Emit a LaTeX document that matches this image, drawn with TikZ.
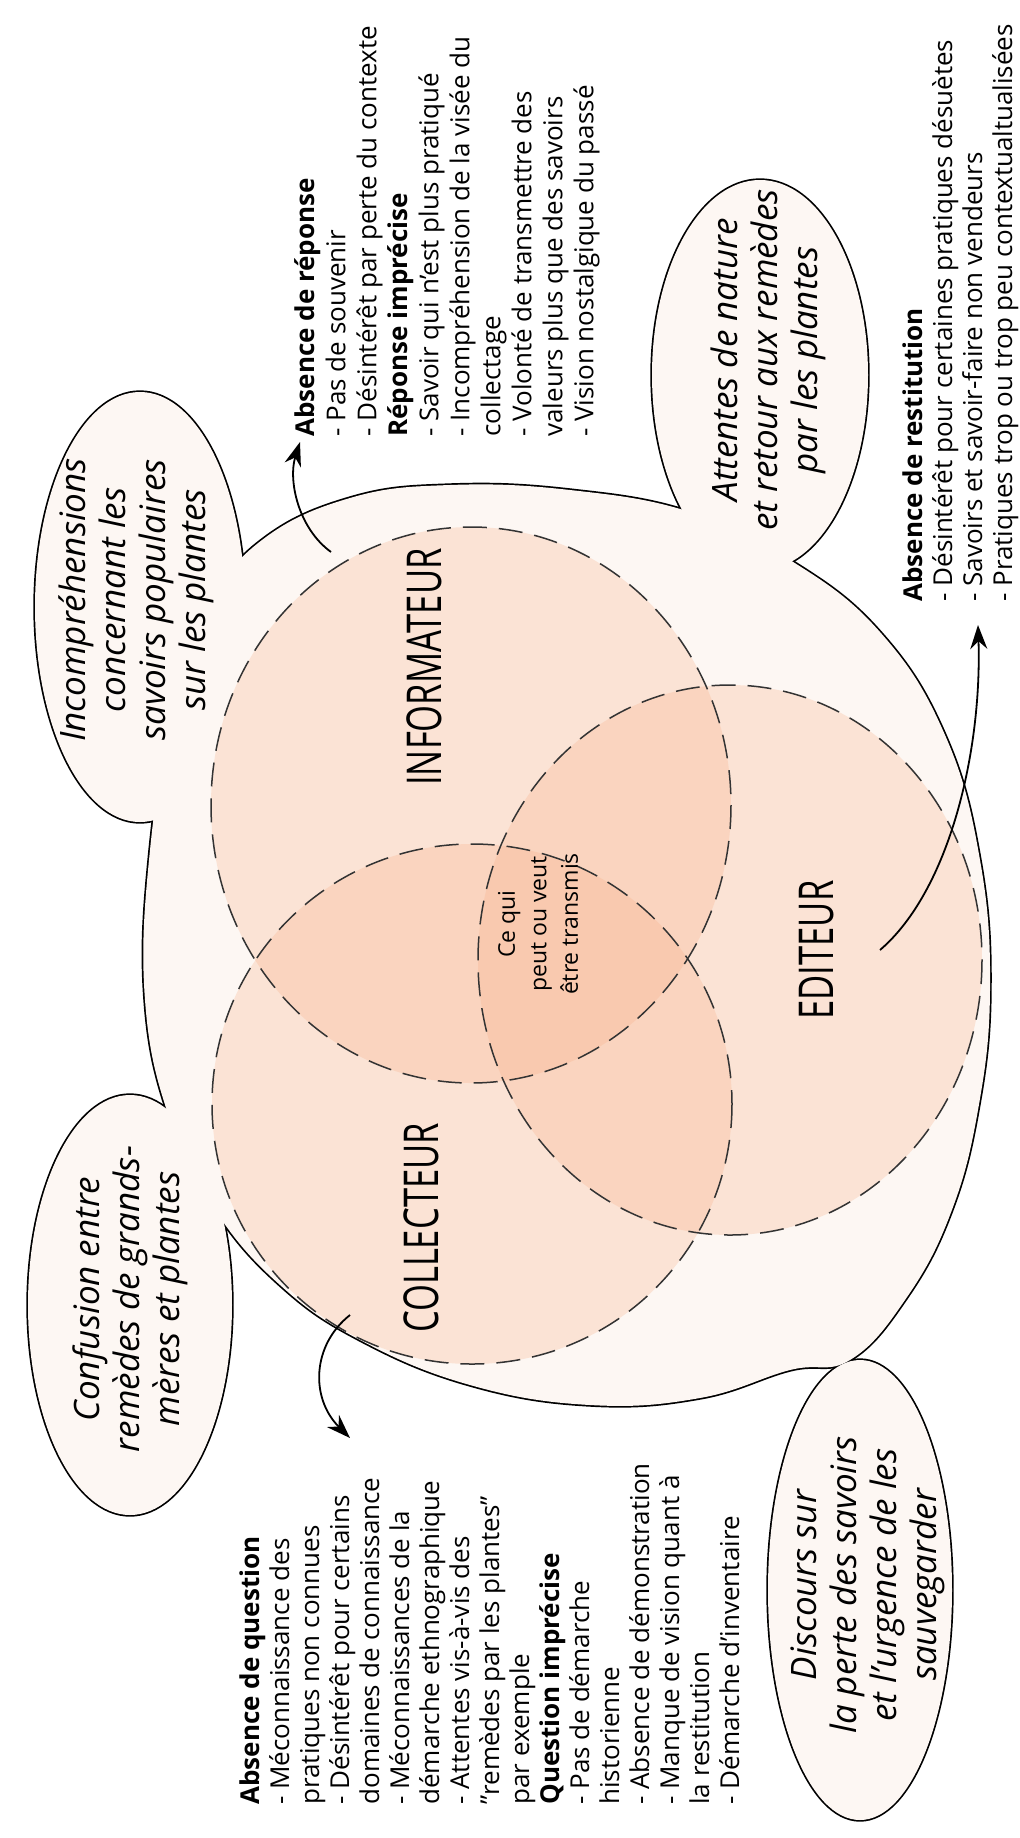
\documentclass[tikz,border=0pt]{standalone}
\usepackage{fontspec}
\setmainfont{Open Sans}
\newfontfamily\condfont[FakeStretch=0.72]{Open Sans}
\usetikzlibrary{arrows.meta}
\definecolor{blob}{RGB}{253,247,243}
\definecolor{circ}{RGB}{248,176,136}
\begin{document}
\begin{tikzpicture}[x=0.5pt,y=-0.5pt,
  outl/.style={fill=blob, draw=black, line width=1.7pt},
  cover/.style={fill=blob},
  venn/.style={fill=circ, fill opacity=0.28},
  vdash/.style={draw=black!80, line width=0.75pt, dash pattern=on 12pt off 6pt},
  txt/.style={rotate=90, anchor=north west, inner sep=0pt, align=left, font=\fontsize{13}{15}\selectfont},
  bub/.style={rotate=90, inner sep=0pt, align=center, font=\fontsize{17.5}{20}\selectfont\itshape},
  lab/.style={rotate=90, inner sep=0pt, font=\fontsize{24}{28}\selectfont\condfont},
  arr/.style={-{Stealth[length=12pt,width=8.5pt]}, line width=0.9pt}
]
\useasboundingbox (0,0) rectangle (1020,1838);
% background blob (union of outer shape and bubbles)
\def\outerpath{plot[smooth cycle, tension=0.7] coordinates {(175,700) (210,605) (262,540) (350,498) (450,485) (570,490) (690,512) (790,560) (880,632) (945,735) (980,860) (990,990) (978,1110) (950,1215) (905,1300) (850,1360) (790,1370) (700,1398) (590,1405) (470,1385) (360,1340) (280,1285) (215,1210) (170,1120) (145,1000) (150,850)}}
\path[outl] \outerpath;
\path[outl] (140,607) ellipse [x radius=105, y radius=215];
\path[outl] (130,1305) ellipse [x radius=102, y radius=210];
\path[outl] (760,375) ellipse [x radius=108, y radius=195];
\path[outl] (860,1590) ellipse [x radius=92, y radius=230];
\path[cover] \outerpath;
\path[cover] (140,607) ellipse [x radius=105, y radius=215];
\path[cover] (130,1305) ellipse [x radius=102, y radius=210];
\path[cover] (760,375) ellipse [x radius=108, y radius=195];
\path[cover] (860,1590) ellipse [x radius=92, y radius=230];
% venn circles
\path[venn] (471,805) ellipse [x radius=260, y radius=278];
\path[venn] (472,1104) ellipse [x radius=260, y radius=260];
\path[venn] (730,960) ellipse [x radius=252, y radius=275];
\path[vdash] (471,805) ellipse [x radius=260, y radius=278];
\path[vdash] (472,1104) ellipse [x radius=260, y radius=260];
\path[vdash] (730,960) ellipse [x radius=252, y radius=275];
% labels
\node[lab] (inf) at (424,667) {INFORMATEUR};
\node[lab] (col) at (421,1228) {COLLECTEUR};
\node[lab] (edi) at (817,950) {EDITEUR};
\node[rotate=90, inner sep=0pt, align=center, font=\fontsize{11.5}{15.75}\selectfont] (ceq) at (538,924) {Ce qui\\peut ou veut\\être transmis};
% bubble texts
\node[bub] (binc) at (136,600) {Incompréhensions\\concernant les\\savoirs populaires\\sur les plantes};
\node[bub] (bconf) at (130,1299) {Confusion entre\\remèdes de grands-\\mères et plantes};
\node[bub] (batt) at (768,360) {Attentes de nature\\et retour aux remèdes\\par les plantes};
\node[bub] (bdisc) at (868,1585) {Discours sur\\la perte des savoirs\\et l'urgence de les\\sauvegarder};
% text blocks
\node[txt, font=\fontsize{13}{15.5}\selectfont] (trep) at (294,437) {\textbf{Absence de réponse}\\
- Pas de souvenir\\
- Désintérêt par perte du contexte\\
\textbf{Réponse imprécise}\\
- Savoir qui n'est plus pratiqué\\
- Incompréhension de la visée du\\
collectage\\
- Volonté de transmettre des\\
valeurs plus que des savoirs\\
- Vision nostalgique du passé};
\node[txt] (trest) at (902,602) {\textbf{Absence de restitution}\\
- Désintérêt pour certaines pratiques désuètes\\
- Savoirs et savoir-faire non vendeurs\\
- Pratiques trop ou trop peu contextualtualisées};
\node[txt] (tquest) at (239,1805) {\textbf{Absence de question}\\
- Méconnaissance des\\
pratiques non connues\\
- Désintérêt pour certains\\
domaines de connaissance\\
- Méconnaissances de la\\
démarche ethnographique\\
- Attentes vis-à-vis des\\
"remèdes par les plantes"\\
par exemple\\
\textbf{Question imprécise}\\
- Pas de démarche\\
historienne\\
- Absence de démonstration\\
- Manque de vision quant à\\
la restitution\\
- Démarche d'inventaire};
% arrows
\coordinate (a1s) at (331,552);
\coordinate (a1e) at (300,442);
\coordinate (a2s) at (350,1315);
\coordinate (a2e) at (350,1438);
\coordinate (a3s) at (880,950);
\coordinate (a3e) at (978,625);
\draw[arr] (a1s) .. controls (298,528) and (288,480) .. (a1e);
\draw[arr] (a2s) .. controls (312,1345) and (310,1398) .. (a2e);
\draw[arr] (a3s) .. controls (950,890) and (982,750) .. (a3e);
\end{tikzpicture}
\end{document}
